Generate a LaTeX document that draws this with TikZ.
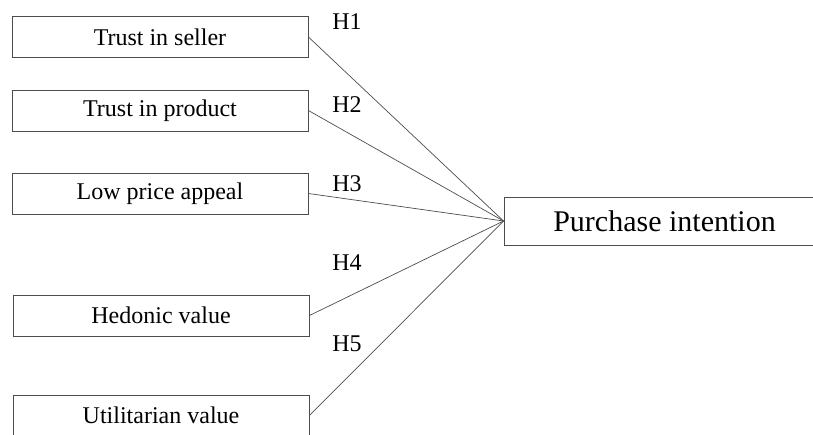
\documentclass[tikz,border=0pt]{standalone}
\usepackage{fontspec}
\setmainfont{Liberation Serif}
\begin{document}
\begin{tikzpicture}[x=1pt,y=-1pt,
  varbox/.style={draw=black!70, line width=0.9pt, minimum width=296pt, minimum height=41pt, inner sep=0pt, font=\fontsize{24}{28}\selectfont},
  outbox/.style={draw=black!70, line width=0.9pt, minimum width=321pt, minimum height=48pt, inner sep=0pt, font=\fontsize{30}{34}\selectfont},
  hyp/.style={font=\fontsize{24}{28}\selectfont, inner sep=0pt},
  link/.style={draw=black!70, line width=0.7pt}]
\useasboundingbox (0,0) rectangle (813,434);
\clip (0,0) rectangle (813,434);
\node[varbox] (s1) at (160,37) {Trust in seller};
\node[varbox] (s2) at (160,110.5) {Trust in product};
\node[varbox] (s3) at (160,193.5) {Low price appeal};
\node[varbox] (s4) at (161,315.5) {Hedonic value};
\node[varbox] (s5) at (161,415.5) {Utilitarian value};
\node[outbox] (pi) at (664.5,221) {Purchase intention};
\node[hyp] (h1) at (347,22) {H1};
\node[hyp] (h2) at (347,105) {H2};
\node[hyp] (h3) at (347,184) {H3};
\node[hyp] (h4) at (347,263) {H4};
\node[hyp] (h5) at (347,344) {H5};
\foreach \s in {s1,s2,s3,s4,s5}
  \draw[link] (\s.east) -- (pi.west);
\end{tikzpicture}
\end{document}
